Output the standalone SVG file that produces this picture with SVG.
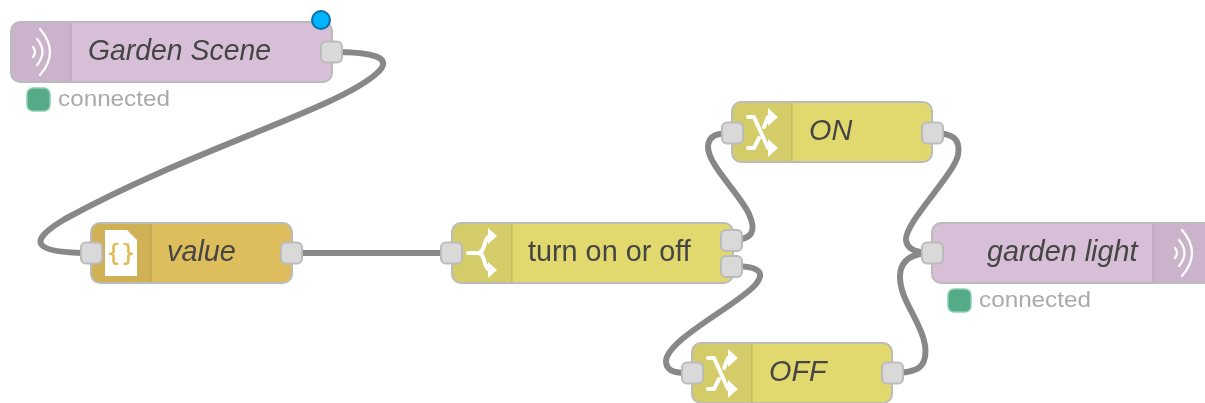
<svg xmlns="http://www.w3.org/2000/svg" width="1205" height="403" viewBox="0 0 1205 403">
<style>
.wire{fill:none;stroke:#888;stroke-width:6;stroke-linecap:round}
.body{stroke:#bbb;stroke-width:2}
.shade{fill:#000;fill-opacity:.06}
.div{stroke:#000;stroke-opacity:.08;stroke-width:2}
.port{fill:#d9d9d9;stroke:#bbb;stroke-width:2}
.label{font-family:"Liberation Sans",Arial,sans-serif;font-size:28.8px;fill:#444}
.it{font-style:italic}
.status{font-family:"Liberation Sans",Arial,sans-serif;font-size:22px;fill:#aaa}
.dot{fill:#5a8;stroke:#8ccfb0;stroke-width:1.5}
.ic{fill:none;stroke:#fff;stroke-width:4;stroke-linecap:round;stroke-linejoin:round}
.thin{stroke-width:2.2}
.fill{fill:#fff}
</style>
<defs>
<filter id="soft" x="0" y="0" width="1205" height="403" filterUnits="userSpaceOnUse"><feGaussianBlur stdDeviation="0.7"/></filter>
<g id="wave"><path class="ic thin" d="M-7-5Q-3 0-7 5M-3-13Q8 0-3 13M0-23Q20 0 0 23"/></g>
<g id="shuffle">
<path class="ic" d="M-14-14H-8L6 17H10M-14 17H-8L-3 7M2-4L6-14H10"/>
<path class="fill" d="M6-23L16-14L6-5ZM6 8L16 17L6 26Z"/>
</g>
</defs>
<g filter="url(#soft)">
<g id="connectors">
<path class="wire" d="M332 52C372 52 396 57 376 74C335 110 190 150 65 219C28 241 30 253 91 253"/>
<path class="wire" d="M292 253H452"/>
<path class="wire" d="M731 240C752 240 757 232 749 214C740 194 708 165 708 147C708 135 718 133 732 133"/>
<path class="wire" d="M731 266C755 266 767 270 756 284C740 304 665 340 666 362C667 373 678 373 692 373"/>
<path class="wire" d="M932 133C952 133 961 138 958 155C954 175 905 222 906 240C907 251 920 253 932 253"/>
<path class="wire" d="M892 373C917 373 928 368 925 345C921 320 899 300 900 275C901 258 915 253 932 253"/>
</g>
<g id="n-garden-scene">
<rect class="body" x="11" y="22" width="321" height="60" rx="9" fill="#d8bfd8"/>
<path class="shade" d="M20 23H71V81H20A8 8 0 0 1 12 73V31A8 8 0 0 1 20 23Z"/>
<path class="div" d="M71 23V81"/>
<use href="#wave" x="40" y="52"/>
<text class="label it" x="88" y="60" textLength="183" lengthAdjust="spacingAndGlyphs">Garden Scene</text>
<rect class="port" x="321" y="41.500" width="21" height="21" rx="5"/>
<circle cx="321" cy="20" r="9" fill="#00b4ff" stroke="#0a6ea8" stroke-width="2"/>
<rect class="dot" x="27" y="88" width="23" height="23" rx="6"/>
<text class="status" x="58" y="106" textLength="112" lengthAdjust="spacingAndGlyphs">connected</text>
</g>
<g id="n-value">
<rect class="body" x="91" y="223" width="201" height="60" rx="9" fill="#debd5c"/>
<path class="shade" d="M100 224H151V282H100A8 8 0 0 1 92 274V232A8 8 0 0 1 100 224Z"/>
<path class="div" d="M151 224V282"/>
<path class="fill" d="M105 230H127L137 240V276H105Z"/>
<text x="121" y="261" text-anchor="middle" font-family="'DejaVu Sans',sans-serif" font-size="23" fill="#debd5c" stroke="#debd5c" stroke-width=".6">{}</text>
<text class="label it" x="167" y="261">value</text>
<rect class="port" x="81" y="242.500" width="21" height="21" rx="5"/>
<rect class="port" x="281" y="242.500" width="21" height="21" rx="5"/>
</g>
<g id="n-switch">
<rect class="body" x="452" y="223" width="281" height="60" rx="9" fill="#e2d96e"/>
<path class="shade" d="M461 224H512V282H461A8 8 0 0 1 453 274V232A8 8 0 0 1 461 224Z"/>
<path class="div" d="M512 224V282"/>
<path class="ic" d="M468 253H478C486 253 483 236 491 236M478 253C486 253 483 270 491 270"/>
<path class="fill" d="M488 228L497 236L488 244ZM488 262L497 270L488 278Z"/>
<text class="label" x="528" y="261">turn on or off</text>
<rect class="port" x="721" y="230" width="21" height="21" rx="5"/>
<rect class="port" x="721" y="256" width="21" height="21" rx="5"/>
<rect class="port" x="441" y="242.500" width="21" height="21" rx="5"/>
</g>
<g id="n-on">
<rect class="body" x="732" y="102" width="200" height="60" rx="9" fill="#e2d96e"/>
<path class="shade" d="M741 103H792V161H741A8 8 0 0 1 733 153V111A8 8 0 0 1 741 103Z"/>
<path class="div" d="M792 103V161"/>
<use href="#shuffle" x="762" y="131"/>
<text class="label it" x="809" y="140">ON</text>
<rect class="port" x="722" y="122.500" width="21" height="21" rx="5"/>
<rect class="port" x="922" y="122.500" width="21" height="21" rx="5"/>
</g>
<g id="n-off">
<rect class="body" x="692" y="343" width="200" height="60" rx="9" fill="#e2d96e"/>
<path class="shade" d="M701 344H752V402H701A8 8 0 0 1 693 394V352A8 8 0 0 1 701 344Z"/>
<path class="div" d="M752 344V402"/>
<use href="#shuffle" x="722" y="372"/>
<text class="label it" x="769" y="381">OFF</text>
<rect class="port" x="682" y="362.500" width="21" height="21" rx="5"/>
<rect class="port" x="882" y="362.500" width="21" height="21" rx="5"/>
</g>
<g id="n-garden-light">
<rect class="body" x="932" y="223" width="285" height="60" rx="9" fill="#d8bfd8"/>
<path class="shade" d="M1153 224H1215V282H1153Z"/>
<path class="div" d="M1153 224V282"/>
<use href="#wave" x="1182" y="253"/>
<text class="label it" x="987" y="261">garden light</text>
<rect class="port" x="922" y="242.500" width="21" height="21" rx="5"/>
<rect class="dot" x="948" y="289" width="23" height="23" rx="6"/>
<text class="status" x="979" y="307" textLength="112" lengthAdjust="spacingAndGlyphs">connected</text>
</g>
</g>
</svg>
